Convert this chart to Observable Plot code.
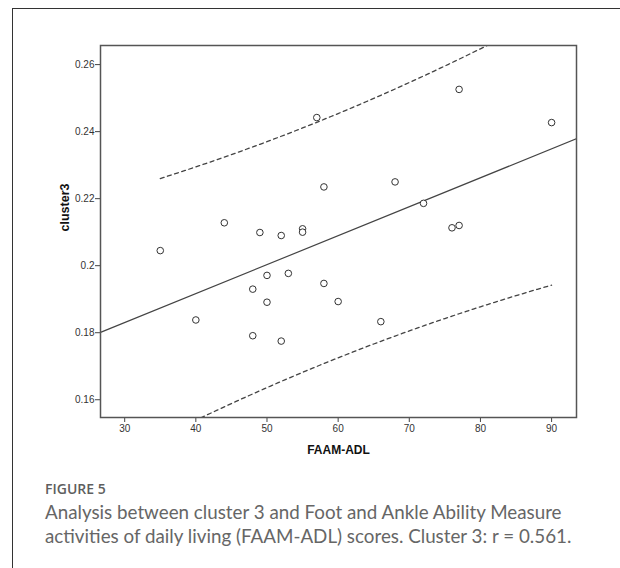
<!DOCTYPE html>
<html>
<head>
<meta charset="utf-8">
<script src="https://cdn.jsdelivr.net/npm/d3@7"></script>
<script src="https://cdn.jsdelivr.net/npm/@observablehq/plot@0.6"></script>
<style>
  html, body { margin: 0; padding: 0; background: #fff; }
  #wrap { position: relative; width: 620px; height: 568px; overflow: hidden; background: #fff; }
  #box { position: absolute; left: 12px; top: 8px; width: 700px; height: 700px; border-left: 1.5px solid #333; border-top: 1.5px solid #333; z-index: 2; pointer-events: none; }
  #chart { position: absolute; left: 0; top: 0; }
  #fig { position: absolute; left: 45px; top: 479px; font-family: "Open Sans", Lato, sans-serif; font-weight: 600; font-size: 14px; color: #5e5e5e; }
  #cap { position: absolute; left: 45px; top: 500px; width: 572px; font-family: Lato, "Open Sans", sans-serif; font-size: 18.8px; line-height: 24px; color: #666; }
</style>
</head>
<body>
<div id="wrap">
  <div id="box"></div>
  <div id="chart"></div>
  <div id="fig">FIGURE 5</div>
  <div id="cap">Analysis between cluster 3 and Foot and Ankle Ability Measure activities of daily living (FAAM-ADL) scores. Cluster 3: r = 0.561.</div>
</div>
<script>
// FAAM-ADL scores
const faamAdl = [35, 40, 44, 48, 48, 49, 50, 50, 52, 52, 53, 55, 55, 57, 58, 58, 60, 66, 68, 72, 76, 77, 77, 90];
// cluster3 values
const cluster3 = [0.2045, 0.1838, 0.2128, 0.1930, 0.1791, 0.2099, 0.1971, 0.1891, 0.2090, 0.1775, 0.1977, 0.2110, 0.2100, 0.2442, 0.2235, 0.1947, 0.1893, 0.1833, 0.2250, 0.2186, 0.2113, 0.2120, 0.2526, 0.2427];
const xTicks = [30, 40, 50, 60, 70, 80, 90];
const yTicks = [0.16, 0.18, 0.2, 0.22, 0.24, 0.26];
const xDomain = [26.6, 93.5];
const yDomain = [0.1547, 0.2657];
const tCrit = 2.074; // t(0.975, df = 22)

const pts = faamAdl.map((x, i) => ({x, y: cluster3[i]}));
const n = pts.length;
const mx = d3.mean(faamAdl), my = d3.mean(cluster3);
const sxx = d3.sum(faamAdl, x => (x - mx) ** 2);
const sxy = d3.sum(pts, p => (p.x - mx) * (p.y - my));
const slope = sxy / sxx, icpt = my - slope * mx;
const sse = d3.sum(pts, p => (p.y - (icpt + slope * p.x)) ** 2);
const s = Math.sqrt(sse / (n - 2));
const fit = xDomain.map(x => ({x, y: icpt + slope * x}));
const [xmin, xmax] = d3.extent(faamAdl);
const piX = d3.range(xmin, xmax + 0.001, 0.5);
const half = x => tCrit * s * Math.sqrt(1 + 1 / n + (x - mx) ** 2 / sxx);
const upper = piX.map(x => ({x, y: icpt + slope * x + half(x)}));
const lower = piX.map(x => ({x, y: icpt + slope * x - half(x)}));

const chart = Plot.plot({
  width: 620,
  height: 470,
  marginLeft: 100,
  marginRight: 44,
  marginTop: 45,
  marginBottom: 53,
  style: {fontFamily: "'Liberation Sans', Arial, sans-serif", fontSize: "10px", color: "#333", background: "transparent"},
  x: {domain: xDomain},
  y: {domain: yDomain},
  marks: [
    Plot.axisX({ticks: xTicks, tickSize: 5, tickPadding: 2, label: null, stroke: "#444", fill: "#333"}),
    Plot.axisY({ticks: yTicks, tickSize: 5, tickPadding: 1, label: null, tickFormat: d => String(d), stroke: "#444", fill: "#333"}),
    Plot.line(fit, {x: "x", y: "y", stroke: "#444", strokeWidth: 1.2, clip: true}),
    Plot.line(upper, {x: "x", y: "y", stroke: "#444", strokeWidth: 1.3, strokeDasharray: "4,3.5", clip: true}),
    Plot.line(lower, {x: "x", y: "y", stroke: "#444", strokeWidth: 1.3, strokeDasharray: "4,3.5", clip: true}),
    Plot.dot(pts, {x: "x", y: "y", r: 3.3, stroke: "#333", strokeWidth: 1, fill: "white"}),
    Plot.frame({stroke: "#555", strokeWidth: 1.5}),
    Plot.text(["cluster3"], {frameAnchor: "left", dx: -36, rotate: -90, text: d => d, fontWeight: "bold", fontSize: 12.5, fill: "#111"}),
    Plot.text(["FAAM-ADL"], {frameAnchor: "bottom", dy: 36, text: d => d, fontWeight: "bold", fontSize: 12, fill: "#111"})
  ]
});
document.getElementById("chart").appendChild(chart);
</script>
</body>
</html>
